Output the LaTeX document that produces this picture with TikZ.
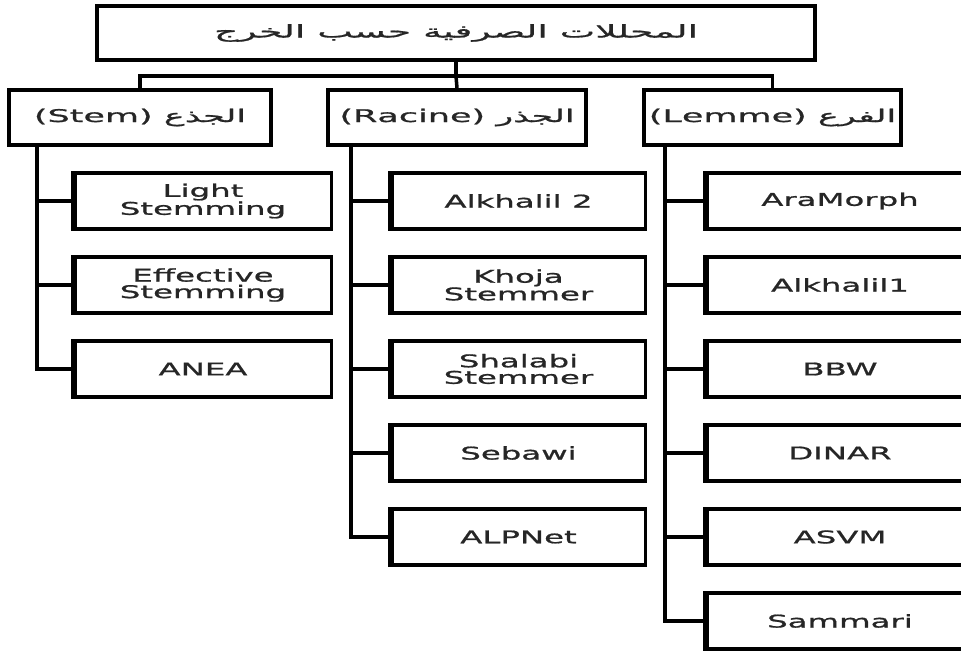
\documentclass[tikz,border=0pt]{standalone}
\usepackage{fontspec}
\usetikzlibrary{calc}
\TeXXeTstate=1
\newfontfamily\vf[FakeStretch=1.85,FakeBold=1]{DejaVu Sans}
\newfontfamily\arabicfont[Script=Arabic,FakeStretch=2.0,FakeBold=1]{DejaVu Sans}
\newfontfamily\toparabic[Script=Arabic,FakeStretch=2.15,FakeBold=1]{DejaVu Sans}
\begin{document}
\begin{tikzpicture}[x=1pt,y=-1pt,
  every node/.style={inner sep=0pt, text=black!85, font=\vf\fontsize{17.5}{16.5}\selectfont, align=center},
  topbox/.style={draw, line width=4pt, minimum width=718pt, minimum height=54pt},
  catbox/.style={draw, line width=4pt, minimum height=55pt},
  childbox/.style={draw, line width=3.2pt, minimum height=56pt},
  conn/.style={line width=3.5pt},
  trunk/.style={line width=4.5pt},
  thickedge/.style={line width=6pt}]
\useasboundingbox (0,0) rectangle (961,651);
\clip (0,0) rectangle (961,651);
\fill[white] (0,0) rectangle (961,651);

\node[topbox] (top) at (456,33) {\toparabic\beginR المحللات الصرفية حسب الخرج\endR};

\node[catbox, minimum width=262pt] (stem) at (140,117.5) {\arabicfont\beginR الجذع \beginL(Stem)\endL\endR};
\node[catbox, minimum width=258pt] (racine) at (457,117.5) {\arabicfont\beginR الجذر \beginL(Racine)\endL\endR};
\node[catbox, minimum width=257pt] (lemme) at (772.5,117.5) {\arabicfont\beginR الفرع \beginL(Lemme)\endL\endR};

% Stem children
\node[childbox, minimum width=257pt] (s1) at (203,201) {Light\\Stemming};
\node[childbox, minimum width=257pt] (s2) at (203,285) {Effective\\Stemming};
\node[childbox, minimum width=257pt] (s3) at (203,369) {ANEA};

% Racine children
\node[childbox, minimum width=254pt] (r1) at (518.5,201) {Alkhalil 2};
\node[childbox, minimum width=254pt] (r2) at (518.5,285) {Khoja\\Stemmer};
\node[childbox, minimum width=254pt] (r3) at (518.5,369) {Shalabi\\Stemmer};
\node[childbox, minimum width=254pt] (r4) at (518.5,453) {Sebawi};
\node[childbox, minimum width=254pt] (r5) at (518.5,537) {ALPNet};

% Lemme children
\node[childbox, minimum width=267pt] (l1) at (840,201) {AraMorph};
\node[childbox, minimum width=267pt] (l2) at (840,285) {Alkhalil1};
\node[childbox, minimum width=267pt] (l3) at (840,369) {BBW};
\node[childbox, minimum width=267pt] (l4) at (840,453) {DINAR};
\node[childbox, minimum width=267pt] (l5) at (840,537) {ASVM};
\node[childbox, minimum width=267pt] (l6) at (840,621) {Sammari};

% thicker left edges of the child boxes
\foreach \n in {s1,s2,s3,r1,r2,r3,r4,r5,l1,l2,l3,l4,l5,l6}
  \draw[thickedge] ([xshift=1.5pt]\n.north west) -- ([xshift=1.5pt]\n.south west);

% top bus
\coordinate (bus) at ($(top.south)+(0,14)$);
\draw[conn] (top.south) -- (bus);
\draw[conn] (stem.north) |- (bus) -| (lemme.north);
\draw[conn] (bus) -- (racine.north);

% trunks
\coordinate (ts) at ([xshift=30pt]stem.south west);
\coordinate (tr) at ([xshift=25pt]racine.south west);
\coordinate (tl) at ([xshift=23pt]lemme.south west);

\foreach \n in {s1,s2,s3} \draw[conn] (\n.west) -| (ts);
\draw[trunk] (ts) |- (s3.west);
\foreach \n in {r1,r2,r3,r4,r5} \draw[conn] (\n.west) -| (tr);
\draw[trunk] (tr) |- (r5.west);
\foreach \n in {l1,l2,l3,l4,l5,l6} \draw[conn] (\n.west) -| (tl);
\draw[trunk] (tl) |- (l6.west);
\end{tikzpicture}
\end{document}
